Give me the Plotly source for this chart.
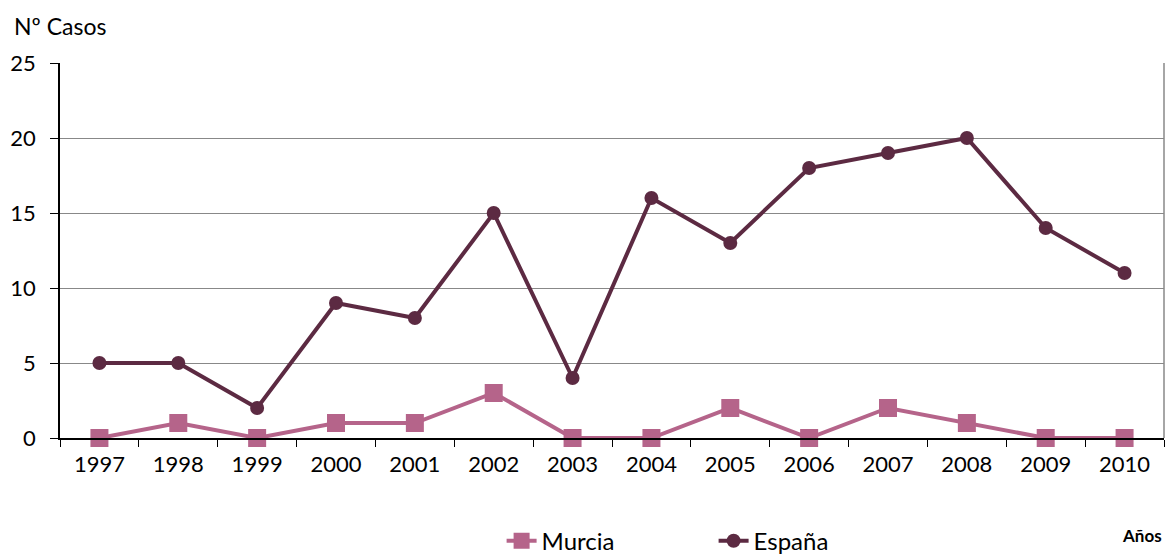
import plotly.graph_objects as go

years = ["1997", "1998", "1999", "2000", "2001", "2002", "2003", "2004", "2005", "2006", "2007", "2008", "2009", "2010"]
murcia = [0, 1, 0, 1, 1, 3, 0, 0, 2, 0, 2, 1, 0, 0]
espana = [5, 5, 2, 9, 8, 15, 4, 16, 13, 18, 19, 20, 14, 11]

c_murcia = "#B5648A"
c_espana = "#5C2A42"
font = "Lato, Calibri, Carlito, sans-serif"

fig = go.Figure()
fig.add_trace(go.Scatter(x=years, y=murcia, name="Murcia", mode="lines+markers",
                         line=dict(color=c_murcia, width=4),
                         marker=dict(symbol="square", size=18, color=c_murcia),
                         cliponaxis=False))
fig.add_trace(go.Scatter(x=years, y=espana, name="España", mode="lines+markers",
                         line=dict(color=c_espana, width=4),
                         marker=dict(symbol="circle", size=14, color=c_espana),
                         cliponaxis=False))

fig.update_layout(
    width=1167, height=554,
    margin=dict(l=60, r=3, t=63, b=116, autoexpand=False),
    plot_bgcolor="white", paper_bgcolor="white",
    font=dict(family=font, size=22, color="black"),
    showlegend=True,
    legend=dict(orientation="h", x=0.40, xanchor="left", y=-0.275, yanchor="middle",
                font=dict(size=24), entrywidth=167, entrywidthmode="pixels"),
    xaxis=dict(type="category", range=[-0.5, len(years) - 0.5], showgrid=False, showline=True,
               linecolor="black", linewidth=1.5,
               ticks="outside", tickson="boundaries", ticklen=7, tickcolor="black",
               tickfont=dict(size=22), ticklabelstandoff=6, zeroline=False),
    yaxis=dict(range=[0, 25], dtick=5, showgrid=True, gridcolor="#888888", gridwidth=1,
               showline=True, linecolor="black", linewidth=1.5, ticks="outside", ticklen=8,
               tickcolor="black", tickfont=dict(size=22), ticklabelstandoff=10, zeroline=False),
    shapes=[dict(type="line", xref="paper", yref="paper", x0=1, x1=1, y0=0, y1=1,
                 line=dict(color="#888888", width=1.5))],
    annotations=[
        dict(text="Nº Casos", xref="paper", yref="paper", x=-0.0435, y=1.099,
             xanchor="left", yanchor="middle", showarrow=False, font=dict(size=23)),
        dict(text="<b>Años</b>", xref="paper", yref="paper", x=1.0, y=-0.261,
             xanchor="right", yanchor="middle", showarrow=False, font=dict(size=17)),
    ],
)

fig.write_html("out.html", config={"displayModeBar": False},
               post_script="document.body.style.margin='0';document.body.style.overflow='hidden';")
